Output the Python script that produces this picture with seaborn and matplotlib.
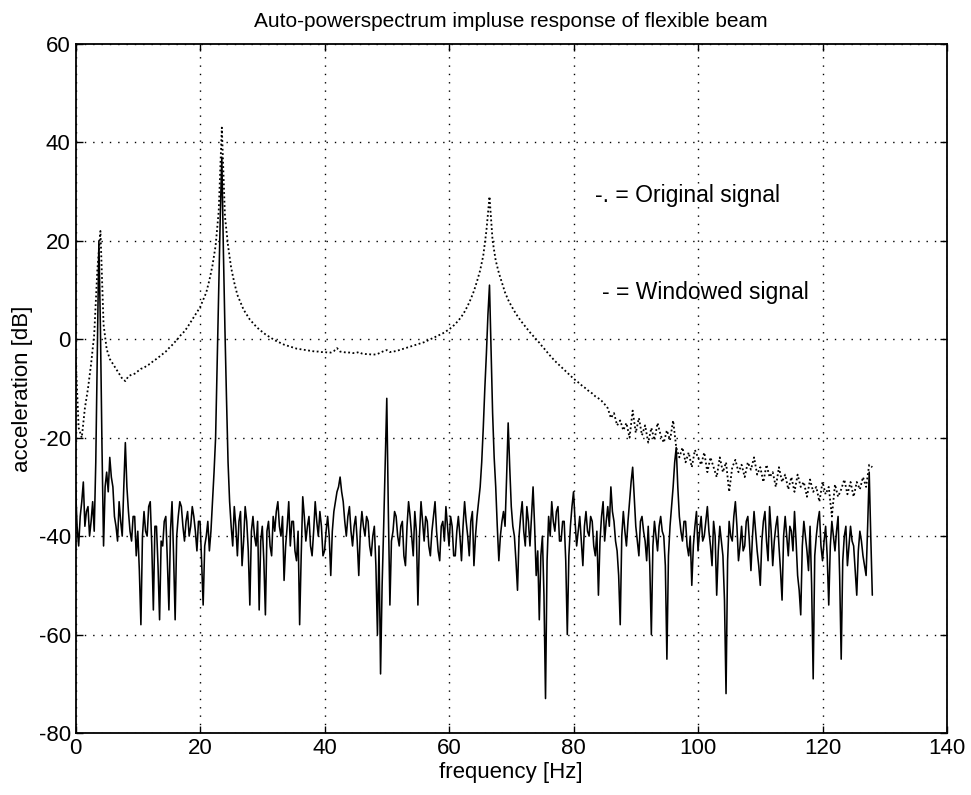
import numpy as np
import pandas as pd
import matplotlib
matplotlib.use("Agg")
import matplotlib.pyplot as plt
import seaborn as sns

# Frequency bin steps (Hz)
orig_step = 0.5
win_step = 0.25

# Original signal (dash-dot in the reference), dB, 0..128 Hz every 0.5 Hz
original = [
    -3, -18, -20, -14, -10, -5, 1, 14, 22, 3,
    -2, -4, -5, -6, -7, -8, -8.5, -7.5, -7.2, -7,
    -6.5, -6, -5.8, -5.3, -5, -4.4, -4, -3.5, -3, -2.5,
    -1.8, -1.2, -0.5, 0.2, 1, 1.6, 2.5, 3.5, 4.5, 5.5,
    6.5, 8, 9.5, 12, 15, 19, 26, 43, 25, 19,
    14.5, 11.5, 9, 7.5, 6, 5, 4, 3.3, 2.6, 2,
    1.5, 1, 0.6, 0.2, -0.2, -0.5, -0.8, -1.1, -1.3, -1.5,
    -1.7, -1.9, -2, -2.1, -2.2, -2.3, -2.4, -2.5, -2.5, -2.6,
    -2.6, -2.7, -2.7, -2.4, -1.8, -2.5, -2.6, -2.7, -2.7, -2.8,
    -2.8, -2.6, -2.9, -3.0, -3.0, -3.1, -3.1, -3.0, -2.7, -2.4,
    -2.2, -2.6, -2.5, -2.4, -2.2, -2.0, -1.8, -1.6, -1.4, -1.2,
    -1.0, -0.8, -0.6, -0.3, 0, 0.3, 0.6, 0.9, 1.2, 1.6,
    2.0, 2.5, 3.1, 3.8, 4.6, 5.6, 6.8, 8.2, 9.8, 11.8,
    14, 17, 22, 29, 20, 16, 13.5, 11.5, 9.5, 8,
    6.8, 5.7, 4.7, 3.8, 3.0, 2.2, 1.4, 0.7, 0, -0.7,
    -1.5, -2.2, -3, -3.7, -4.4, -5, -5.6, -6.2, -6.8, -7.4,
    -8, -8.5, -9, -9.6, -10, -10.6, -11, -11.6, -12, -12.5,
    -13.2, -14, -16, -15, -17.5, -16.5, -18.5, -17, -20, -14.5,
    -19, -16, -19.5, -17.5, -21, -18, -20.5, -17, -19.5, -21,
    -18.5, -20.5, -16.5, -22, -24, -22, -25, -23, -26, -22.5,
    -24, -25.5, -23, -27, -24, -26, -28, -24, -27, -25,
    -31, -26, -24.5, -27, -25.5, -28, -25, -26.5, -24, -27.5,
    -26, -29, -25.5, -28, -27, -30, -26, -29, -27.5, -30.5,
    -28, -31, -27.5, -30, -29, -32, -28.5, -31, -30, -33,
    -29, -31.5, -30, -36, -29.5, -32, -30.5, -28.5, -31.5, -29,
    -32, -29, -30.5, -28, -30, -25.5, -26,
]

# Windowed signal (solid in the reference), dB, 0..128 Hz every 0.25 Hz
# (one row per Hz: f, f+0.25, f+0.5, f+0.75)
windowed = [
    -30, -38, -42, -36,
    -33, -29, -38, -35,
    -34, -40, -37, -33,
    -39, -25, -3, 20,
    2, -22, -42, -30,
    -27, -31, -24, -28,
    -30, -36, -38, -41,
    -33, -37, -40, -30,
    -21, -30, -35, -39,
    -41, -36, -36, -44,
    -39, -47, -58, -40,
    -35, -39, -40, -34,
    -33, -42, -55, -38,
    -38, -46, -57, -41,
    -42, -37, -36, -45,
    -55, -39, -33, -44,
    -57, -40, -36, -33,
    -34, -38, -41, -37,
    -35, -40, -38, -34,
    -36, -39, -43, -37,
    -37, -45, -54, -42,
    -40, -37, -43, -39,
    -33, -27, -20, -5,
    10, 25, 37, 18,
    2, -12, -25, -33,
    -38, -42, -34, -38,
    -44, -37, -35, -46,
    -41, -34, -37, -43,
    -54, -39, -36, -40,
    -42, -37, -55, -41,
    -38, -45, -56, -39,
    -37, -42, -44, -36,
    -39, -35, -33, -38,
    -40, -36, -49, -42,
    -38, -33, -42, -37,
    -37, -43, -45, -39,
    -58, -44, -32, -36,
    -41, -38, -36, -42,
    -44, -39, -33, -37,
    -40, -35, -38, -44,
    -43, -39, -36, -40,
    -48, -39, -35, -33,
    -31, -30, -28, -31,
    -33, -37, -40, -36,
    -34, -39, -42, -38,
    -36, -41, -48, -39,
    -35, -38, -40, -36,
    -37, -42, -44, -40,
    -38, -46, -60, -42,
    -68, -50, -38, -25,
    -12, -35, -54, -41,
    -39, -35, -36, -40,
    -42, -38, -37, -44,
    -46, -38, -33, -36,
    -40, -44, -35, -39,
    -54, -40, -33, -37,
    -41, -36, -37, -42,
    -44, -39, -36, -33,
    -39, -43, -45, -38,
    -37, -41, -34, -38,
    -42, -36, -38, -44,
    -44, -39, -36, -40,
    -45, -38, -33, -37,
    -40, -44, -37, -35,
    -46, -40, -36, -33,
    -30, -25, -18, -10,
    -3, 5, 11, -2,
    -15, -24, -30, -38,
    -45, -40, -37, -35,
    -38, -28, -17, -26,
    -34, -38, -40, -45,
    -51, -40, -36, -33,
    -39, -42, -34, -37,
    -42, -36, -30, -38,
    -48, -43, -57, -44,
    -40, -52, -73, -45,
    -36, -40, -33, -37,
    -39, -35, -34, -41,
    -41, -37, -37, -45,
    -60, -44, -38, -34,
    -31, -37, -42, -39,
    -36, -41, -46, -38,
    -35, -39, -40, -36,
    -37, -42, -44, -39,
    -52, -41, -36, -33,
    -41, -37, -34, -38,
    -30, -35, -37, -41,
    -43, -48, -58, -40,
    -35, -39, -42, -37,
    -33, -29, -26, -32,
    -38, -41, -44, -37,
    -36, -39, -41, -45,
    -38, -46, -60, -42,
    -37, -40, -43, -38,
    -36, -39, -40, -46,
    -65, -44, -38, -34,
    -30, -25, -22, -30,
    -36, -39, -41, -37,
    -37, -42, -44, -40,
    -50, -42, -38, -35,
    -43, -39, -36, -41,
    -40, -37, -34, -39,
    -42, -46, -37, -40,
    -52, -43, -38, -41,
    -44, -53, -72, -45,
    -37, -40, -41, -36,
    -33, -38, -45, -42,
    -38, -43, -42, -37,
    -36, -41, -47, -40,
    -35, -39, -43, -46,
    -50, -41, -37, -35,
    -41, -45, -34, -39,
    -46, -41, -38, -36,
    -42, -47, -53, -40,
    -36, -40, -44, -38,
    -39, -43, -35, -41,
    -48, -51, -56, -42,
    -37, -40, -43, -47,
    -38, -50, -69, -44,
    -40, -37, -35, -42,
    -45, -41, -38, -44,
    -54, -42, -37, -40,
    -43, -39, -36, -48,
    -65, -45, -40, -38,
    -46, -42, -38, -41,
    -42, -47, -52, -43,
    -39, -41, -44, -46,
    -48, -38, -27, -40,
    -52,
]

x_ticks = [0, 20, 40, 60, 80, 100, 120, 140]
y_ticks = [-80, -60, -40, -20, 0, 20, 40, 60]

title_text = "Auto-powerspectrum impluse response of flexible beam"
xlabel_text = "frequency [Hz]"
ylabel_text = "acceleration [dB]"
legend_texts = ["-. = Original signal", "- = Windowed signal"]

freq_orig = np.arange(len(original)) * orig_step
freq_win = np.arange(len(windowed)) * win_step
df_orig = pd.DataFrame({"f": freq_orig, "dB": original})
df_win = pd.DataFrame({"f": freq_win, "dB": windowed})

sns.set_style("white")
plt.rcParams["font.family"] = ["Liberation Sans", "DejaVu Sans"]
plt.rcParams["axes.unicode_minus"] = False
plt.rcParams["text.color"] = "black"
plt.rcParams["axes.labelcolor"] = "black"
plt.rcParams["xtick.color"] = "black"
plt.rcParams["ytick.color"] = "black"

fig = plt.figure(figsize=(9.71, 7.95), dpi=100)
ax = fig.add_axes([0.0778, 0.078, 0.8975, 0.8667])

sns.lineplot(data=df_win, x="f", y="dB", ax=ax, color="black", lw=1.15,
             estimator=None, sort=False)
sns.lineplot(data=df_orig, x="f", y="dB", ax=ax, color="black", lw=1.3,
             linestyle=(0, (1.0, 1.4)), estimator=None, sort=False)

ax.set_xlim(0, 140)
ax.set_ylim(-80, 60)
ax.set_xticks(x_ticks)
ax.set_yticks(y_ticks)
ax.grid(True, color="black", linestyle=(0, (1, 5)), linewidth=1.0)
ax.tick_params(direction="in", length=5, width=1, labelsize=16,
               labelcolor="black", colors="black",
               top=True, right=True, bottom=True, left=True)
for s in ax.spines.values():
    s.set_color("black")
    s.set_linewidth(1.3)

ax.set_xlabel(xlabel_text, fontsize=16, labelpad=2, color="black")
ax.set_ylabel(ylabel_text, fontsize=16, labelpad=4, color="black")
ax.set_title(title_text, fontsize=15, pad=12, color="black")

ax.text(83.5, 29.3, legend_texts[0], fontsize=16.5, va="center", ha="left",
        color="black")
ax.text(84.6, 9.4, legend_texts[1], fontsize=16.5, va="center", ha="left",
        color="black")

fig.savefig("out.png", dpi=100, facecolor="white")
